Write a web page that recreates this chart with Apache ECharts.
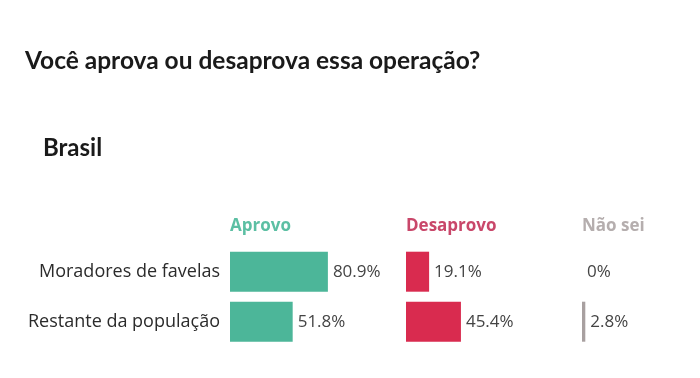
<!DOCTYPE html>
<html>
<head>
<meta charset="utf-8">
<script src="https://cdn.jsdelivr.net/npm/echarts@6/dist/echarts.min.js"></script>
<style>
html,body{margin:0;padding:0;background:#fff;}
#chart{width:700px;height:378px;}
</style>
</head>
<body>
<div id="chart"></div>
<script>
var categories = ['Moradores de favelas', 'Restante da população'];
var groups = ['Aprovo', 'Desaprovo', 'Não sei'];
var aprovo = [80.9, 51.8];
var desaprovo = [19.1, 45.4];
var naoSei = [0, 2.8];
var titleText = 'Você aprova ou desaprova essa operação?';
var subtitleText = 'Brasil';

var values = [aprovo, desaprovo, naoSei];
var barColors = ['#4cb699', '#d92b4f', '#a8a0a0'];
var headColors = ['#5cbfa3', '#c9476a', '#b5aeae'];
var lefts = [230, 406, 582];
var barW = 121;

var chart = echarts.init(document.getElementById('chart'), null, {renderer: 'canvas'});
var grids = [], xAxes = [], yAxes = [], series = [], graphics = [];
values.forEach(function (vals, i) {
  grids.push({left: lefts[i], top: 246.7, width: barW, height: 100, containLabel: false});
  xAxes.push({type: 'value', gridIndex: i, min: 0, max: 100, show: false});
  yAxes.push({
    type: 'category', gridIndex: i, data: categories, inverse: true,
    axisLine: {show: false}, axisTick: {show: false}, splitLine: {show: false},
    axisLabel: {
      show: i === 0, margin: 10, color: '#2b2b2b', fontSize: 18,
      fontFamily: 'Open Sans'
    }
  });
  series.push({
    type: 'bar', xAxisIndex: i, yAxisIndex: i, data: vals, barWidth: 40,
    itemStyle: {color: barColors[i]},
    label: {
      show: true, position: 'right', distance: 5,
      formatter: function (p) { return p.value + '%'; },
      color: '#444', fontSize: 17, fontFamily: 'Open Sans'
    },
    silent: true, animation: false
  });
  graphics.push({
    type: 'text', x: lefts[i], y: 226.5,
    style: {text: groups[i], fill: headColors[i], font: 'bold 17px "Open Sans"', textVerticalAlign: 'middle'}
  });
});
graphics.push({
  type: 'text', x: 25, y: 61,
  style: {text: titleText, fill: '#1a1a1a', font: 'bold 24.5px Lato', textVerticalAlign: 'middle'}
});
graphics.push({
  type: 'text', x: 43, y: 148,
  style: {text: subtitleText, fill: '#1a1a1a', font: 'bold 24px Lato', textVerticalAlign: 'middle'}
});

chart.setOption({
  backgroundColor: '#ffffff',
  animation: false,
  grid: grids,
  xAxis: xAxes,
  yAxis: yAxes,
  series: series,
  graphic: graphics
});
</script>
</body>
</html>
